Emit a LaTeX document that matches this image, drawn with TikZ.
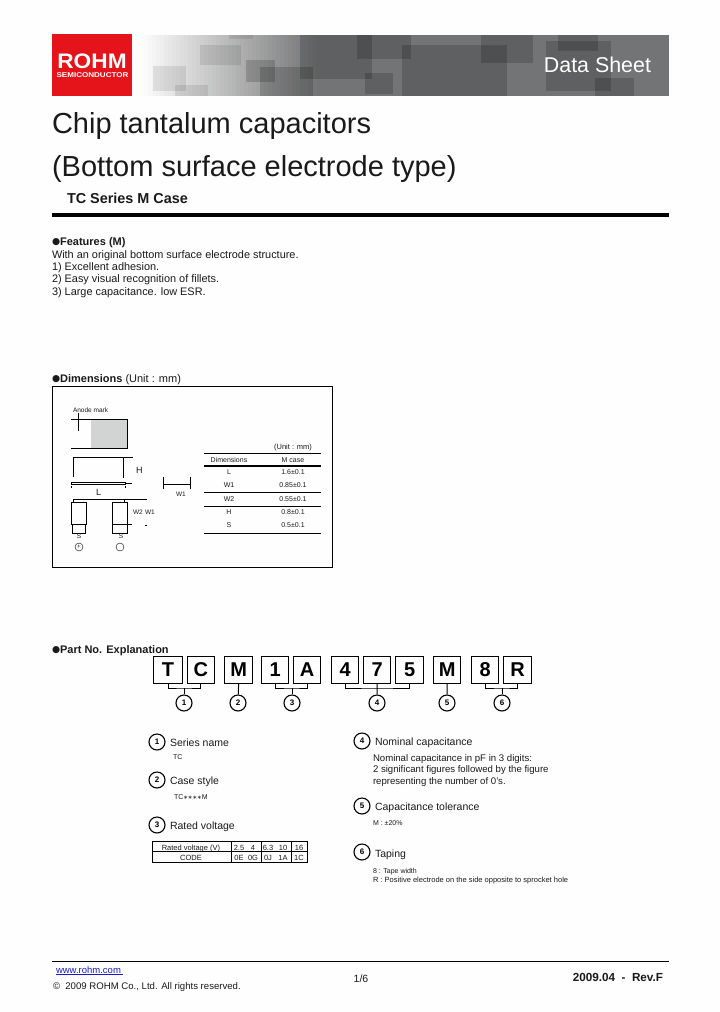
\documentclass[tikz,border=0pt]{standalone}
\usepackage{fontspec}
\setmainfont{Liberation Sans}
\newfontfamily\dejavu{DejaVu Sans}
\definecolor{rohmred}{HTML}{E5141A}
\definecolor{bandgray}{HTML}{737475}
\definecolor{linkblue}{HTML}{1A1AD0}
\definecolor{softtext}{HTML}{1A1A1A}
\definecolor{pale}{HTML}{D2D3D3}
\newcommand{\tx}[6]{\node[textitem,anchor=#4,font=\fontsize{#5}{#5}\selectfont] (#1) at (#2,#3) {#6};}
\newcommand{\blt}{\raisebox{.8pt}{\dejavu\fontsize{9.3}{9.3}\selectfont ●}}
\begin{document}
\begin{tikzpicture}[x=1pt,y=-1pt,
  textitem/.style={inner sep=0pt,outer sep=0pt,text=softtext},
  overlay box/.style={fill=black,fill opacity=.17,draw=none},
  faint box/.style={fill=black,fill opacity=.09,draw=none},
  digit/.style={draw=black,line width=1.2pt,inner sep=0pt,text=black,font=\fontsize{20}{20}\selectfont\bfseries,anchor=north west,minimum height=27pt},
  num/.style={circle,draw=black,line width=1.1pt,minimum size=16pt,inner sep=0pt,text=black,font=\fontsize{8}{8}\selectfont\bfseries},
  thin line/.style={draw=black,line width=.7pt},
  rule/.style={draw=black,line width=1pt},
  leg/.style={draw=black,line width=.8pt}]
\useasboundingbox (0,0) rectangle (720,1012);
\fill[white!99.5!black] (0,0) rectangle (720,1012);
% banner
\foreach \i in {0,...,43}{
  \pgfmathsetmacro{\xa}{140+4*\i}
  \pgfmathsetmacro{\xb}{\xa+4.4}
  \pgfmathsetmacro{\tt}{min(100,100*(\i+.5)/44)}
  \fill[bandgray!\tt!white] (\xa,35) rectangle (\xb,96);
}
\fill[bandgray] (315.5,35) rectangle (669,96);
\foreach \a/\b/\c/\d in {300/35/372/79,357/35/411/59,402/45/507/96,481/35/533/63,546/41/611/91,558/35/598/51,595/78/634/96,365/73/393/94,260/67/313/96,246/60/275/82}
  \fill[overlay box] (\a,\b) rectangle (\c,\d);
\foreach \a/\b/\c/\d in {200/45/241/65,229/35/253/39,153/66/186/91,175/85/208/96}
  \fill[faint box] (\a,\b) rectangle (\c,\d);
\fill[rohmred] (52,34) rectangle (132,96);
\node[textitem,text=white,anchor=base,xscale=1.08,font=\fontsize{21}{21}\selectfont\bfseries] (logo) at (92,68) {ROHM};
\node[textitem,text=white,anchor=base,xscale=1.15,font=\fontsize{7}{7}\selectfont\bfseries] (logosub) at (92.5,77.5) {SEMICONDUCTOR};
\node[textitem,text=white,anchor=base east,font=\fontsize{21.4}{21.4}\selectfont] (ds) at (651,72) {Data Sheet};
% titles
\tx{t1}{52}{133}{base west}{29}{Chip tantalum capacitors}
\tx{t2}{52}{176}{base west}{29}{(Bottom surface electrode type)}
\tx{t3}{67}{203}{base west}{14.4}{\bfseries TC Series M Case}
\fill[black] (52,213) rectangle (669,217);
% features
\tx{f0}{52}{245}{base west}{11}{\blt\bfseries Features (M)}
\tx{f1}{52}{258}{base west}{10.9}{With an original bottom surface electrode structure.}
\tx{f2}{52}{270}{base west}{10.9}{1) Excellent adhesion.}
\tx{f3}{52}{282}{base west}{10.9}{2) Easy visual recognition of fillets.}
\tx{f4}{52}{295}{base west}{10.9}{3) Large capacitance. low ESR.}
% dimensions
\tx{d0}{52}{382}{base west}{11}{\blt{\bfseries Dimensions} (Unit : mm)}
\draw[draw=black,line width=.8pt] (52,386) rectangle (332,567);
\tx{am}{73}{412}{base west}{6.5}{Anode mark}
\fill[pale] (91,419) rectangle (127,448);
\draw[thin line] (71,419) -- (127,419) -- (127,448) -- (71,448);
\draw[thin line] (78,413) -- (78,431);
\draw[thin line] (73,477) -- (73,457) -- (133,457);
\draw[thin line] (123,458) -- (123,478);
\draw[thin line] (71,482) -- (125,482) -- (125,484) -- (71,484) -- cycle;
\draw[thin line] (125,483) -- (132,483);
\draw[thin line] (71,486) -- (71,488) (125,486) -- (125,488);
\tx{hh}{136}{473}{base west}{9}{H}
\tx{ll}{96}{495}{base west}{9}{L}
\draw[thin line] (73,502) -- (73,499) -- (147,499);
\draw[thin line] (124,499) -- (124,502);
\draw[thin line] (71,502) rectangle (86,524);
\draw[thin line] (112,502) rectangle (127,524);
\draw[thin line] (127,524) -- (132,524);
\draw[thin line] (145,525) -- (147,525);
\tx{w2}{133}{514}{base west}{6.5}{W2}
\tx{w1b}{145}{514}{base west}{6.5}{W1}
\draw[thin line] (72,525) -- (72,533) -- (85,533) -- (85,525);
\draw[thin line] (112,525) -- (112,533) -- (127,533) -- (127,525);
\tx{s1}{79}{538}{base}{6.5}{S}
\tx{s2}{121}{538}{base}{6.5}{S}
\node[circle,draw=black,line width=.4pt,minimum size=8pt,inner sep=0pt,text=softtext,font=\fontsize{6}{6}\selectfont] (mk1) at (79,547) {+};
\node[circle,draw=black,line width=.4pt,minimum size=8pt,inner sep=0pt] (mk2) at (120,547) {};
\draw[thin line] (163,477) -- (163,489) (163,484) -- (190,484) (190,477) -- (190,489);
\tx{w1}{176}{496}{base west}{6.5}{W1}
% dimension table
\tx{u}{293}{449}{base}{7.5}{(Unit : mm)}
\draw[thin line] (204,453) -- (321,453);
\draw[black,line width=1.8pt] (204,466) -- (321,466);
\draw[thin line] (204,492) -- (321,492) (204,506) -- (321,506) (204,533) -- (321,533);
\tx{h1}{229}{462}{base}{7}{Dimensions}
\tx{h2}{293}{462}{base}{7}{M case}
\tx{r1}{229}{474}{base}{7}{L}
\tx{r1v}{293}{474}{base}{7}{1.6±0.1}
\tx{r2}{229}{487}{base}{7}{W1}
\tx{r2v}{293}{487}{base}{7}{0.85±0.1}
\tx{r3}{229}{501}{base}{7}{W2}
\tx{r3v}{293}{501}{base}{7}{0.55±0.1}
\tx{r4}{229}{514}{base}{7}{H}
\tx{r4v}{293}{514}{base}{7}{0.8±0.1}
\tx{r5}{229}{527}{base}{7}{S}
\tx{r5v}{293}{527}{base}{7}{0.5±0.1}
% part number
\tx{p0}{52}{653}{base west}{11}{\blt\bfseries Part No. Explanation}
\foreach \n/\x/\w/\l in {a/153/29/T,b/187/26.5/C,c/224/28/M,d/261/27/1,e/293/27/A,f/331/27/4,g/363/27/7,h/395/28/5,i/433/27/M,j/471/27/8,k/503/28/R}
  \node[digit,minimum width=\w pt] (b\n) at (\x,656) {\l};
\node[num] (c1) at (184,703) {1};
\node[num] (c2) at (238,703) {2};
\node[num] (c3) at (292,703) {3};
\node[num] (c4) at (377,703) {4};
\node[num] (c5) at (447,703) {5};
\node[num] (c6) at (502,703) {6};
\coordinate (j1) at (184,688);
\coordinate (j3) at (292,688);
\coordinate (j4) at (377,688);
\coordinate (j6) at (502,688);
\draw[rule] (ba.south) |- (j1) -| (bb.south);
\draw[rule] (j1) -- (c1);
\draw[rule] (bc.south) -- (c2);
\draw[rule] (bd.south) |- (j3) -| (be.south);
\draw[rule] (j3) -- (c3);
\draw[rule] (bf.south) |- (j4) -| (bh.south);
\draw[rule] (bg.south) -- (j4) -- (c4);
\draw[rule] (bi.south) -- (c5);
\draw[rule] (bj.south) |- (j6) -| (bk.south);
\draw[rule] (j6) -- (c6);
% legend left
\node[num] (l1) at (157,742) {1};
\node[num] (l2) at (157,780) {2};
\node[num] (l3) at (157,825) {3};
\tx{l1t}{170}{746}{base west}{10.5}{Series name}
\tx{l1s}{173}{759}{base west}{7}{TC}
\tx{l2t}{170}{784}{base west}{10.5}{Case style}
\tx{l2s}{174}{799}{base west}{7}{TC{\dejavu\fontsize{5.5}{5.5}\selectfont ∗∗∗∗}M}
\tx{l3t}{170}{829}{base west}{10.5}{Rated voltage}
\draw[leg] (152,841) rectangle (307,862);
\draw[leg] (152,851.5) -- (307,851.5);
\draw[leg] (231,841) -- (231,862) (261,841) -- (261,862) (291,841) -- (291,862);
\tx{v0}{191}{850}{base}{7.5}{Rated voltage (V)}
\tx{v1}{191}{860}{base}{7.5}{CODE}
\foreach \n/\x/\s/\t in {p/239/2.5/0E,q/253/4/0G,r/268/6.3/0J,s/283/10/1A,t/299/16/1C}{
  \tx{vt\n}{\x}{850}{base}{7.5}{\s}
  \tx{vb\n}{\x}{860}{base}{7.5}{\t}
}
% legend right
\node[num] (l4) at (362,741) {4};
\node[num] (l5) at (362,806) {5};
\node[num] (l6) at (362,852) {6};
\tx{l4t}{375}{745}{base west}{10.5}{Nominal capacitance}
\tx{l4a}{373}{761}{base west}{9.6}{Nominal capacitance in pF in 3 digits:}
\tx{l4b}{373}{772}{base west}{9.6}{2 significant figures followed by the figure}
\tx{l4c}{373}{784}{base west}{9.6}{representing the number of 0's.}
\tx{l5t}{375}{810}{base west}{10.5}{Capacitance tolerance}
\tx{l5s}{373}{825}{base west}{7}{M : ±20\%}
\tx{l6t}{375}{857}{base west}{10.5}{Taping}
\tx{l6a}{373}{873}{base west}{7}{8 : Tape width}
\tx{l6b}{373}{882}{base west}{7.5}{R : Positive electrode on the side opposite to sprocket hole}
% footer
\draw[black,line width=.8pt] (52,961) -- (669,961);
\node[textitem,text=linkblue,anchor=base west,font=\fontsize{9.5}{9.5}\selectfont] (url) at (56,973) {www.rohm.com};
\draw[linkblue,line width=.5pt] (url.base west)++(0,1.5) -- ++(67,0);
\tx{cp}{53}{989}{base west}{9.6}{©\ \ 2009 ROHM Co., Ltd. All rights reserved.}
\tx{pg}{361}{982}{base}{10.5}{1/6}
\tx{rv}{663}{981}{base east}{11.7}{\bfseries 2009.04\ \ -\ \ Rev.F}
\end{tikzpicture}
\end{document}
